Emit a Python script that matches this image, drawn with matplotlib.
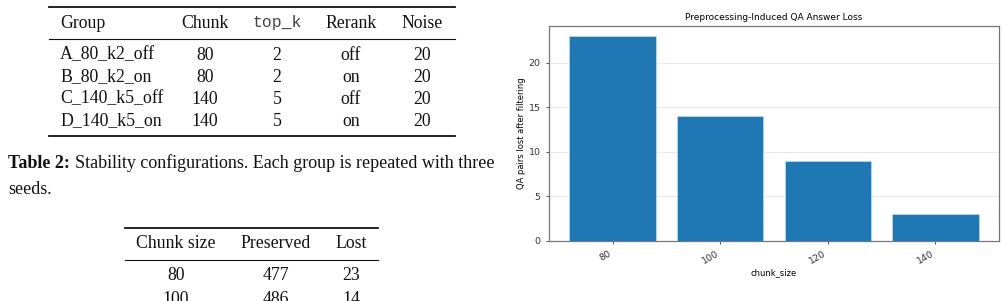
import matplotlib
matplotlib.use("Agg")
import matplotlib.pyplot as plt
from matplotlib.lines import Line2D

# chart data
chunk_sizes = ["80", "100", "120", "140"]
qa_lost = [23, 14, 9, 3]

# table 2 (stability configurations)
t2_header = ["Group", "Chunk", "top_k", "Rerank", "Noise"]
t2_groups = ["A_80_k2_off", "B_80_k2_on", "C_140_k5_off", "D_140_k5_on"]
t2_chunk = ["80", "80", "140", "140"]
t2_topk = ["2", "2", "5", "5"]
t2_rerank = ["off", "on", "off", "on"]
t2_noise = ["20", "20", "20", "20"]

# table 3 (preserved / lost), only the visible rows
t3_header = ["Chunk size", "Preserved", "Lost"]
t3_chunk = ["80", "100"]
t3_preserved = ["477", "486"]
t3_lost = ["23", "14"]

W, H = 1006, 301
fig = plt.figure(figsize=(W / 100, H / 100), dpi=100)

serif = ["Liberation Serif", "DejaVu Serif"]
fs = 12.8


def px(x, y):
    return x / W, 1 - y / H


def txt(x, y, s, ha="center", **kw):
    fx, fy = px(x, y)
    kw.setdefault("family", serif)
    kw.setdefault("fontsize", fs)
    kw.setdefault("color", "#111111")
    fig.text(fx, fy, s, ha=ha, va="center", **kw)


def rule(x0, x1, y, lw=1.2):
    a, b = px(x0, y)
    c, _ = px(x1, y)
    fig.add_artist(Line2D([a, c], [b, b], color="#111111", lw=lw))


# ---- table 2 ----
rule(49, 455, 7, lw=1.3)
rule(49, 455, 39, lw=0.8)
rule(49, 455, 136, lw=1.3)
col_x = [60, 205, 277, 351, 422]
for i, h in enumerate(t2_header):
    if i == 0:
        txt(col_x[i], 23, h, ha="left")
    elif h == "top_k":
        txt(col_x[i], 22, h, family=["Liberation Mono", "DejaVu Sans Mono"],
            fontsize=fs - 1, color="#444444")
    else:
        txt(col_x[i], 23, h)
row_y = [55, 77, 99, 121]
for j, y in enumerate(row_y):
    txt(col_x[0], y, t2_groups[j], ha="left")
    txt(col_x[1], y, t2_chunk[j])
    txt(col_x[2], y, t2_topk[j])
    txt(col_x[3], y, t2_rerank[j])
    txt(col_x[4], y, t2_noise[j])

# caption
fx, fy = px(8, 163)
fig.text(fx, fy, "Table 2:", family=serif, fontsize=13, fontweight="bold",
         va="center", color="#111111")
txt(75, 163, "Stability configurations. Each group is repeated with three",
    ha="left", fontsize=13)
txt(8, 189, "seeds.", ha="left", fontsize=13)

# ---- table 3 ----
rule(125, 378, 228, lw=1.3)
rule(125, 378, 260, lw=0.8)
t3_x = [176, 276, 351]
for i, h in enumerate(t3_header):
    txt(t3_x[i], 244, h)
for j, y in enumerate([276, 299]):
    txt(t3_x[0], y, t3_chunk[j])
    txt(t3_x[1], y, t3_preserved[j])
    txt(t3_x[2], y, t3_lost[j])

# ---- bar chart ----
ax = fig.add_axes([549 / W, 1 - 240.7 / H, (999 - 549) / W, (240.7 - 26) / H])
ax.bar(chunk_sizes, qa_lost, color="#1f77b4", edgecolor="#bcd6ee", linewidth=0.6)
ax.set_axisbelow(True)
ax.grid(axis="y", color="#dddddd", linewidth=0.6, alpha=0.8)
ax.set_title("Preprocessing-Induced QA Answer Loss", fontsize=6.5, pad=4)
ax.set_xlabel("chunk_size", fontsize=6, labelpad=2)
ax.set_ylabel("QA pairs lost after filtering", fontsize=6, labelpad=2)
ax.tick_params(labelsize=6.8, length=2.5, width=0.6, colors="#333333")
plt.setp(ax.get_xticklabels(), rotation=30, ha="right")
for s in ax.spines.values():
    s.set_color("#777777")
    s.set_linewidth(0.9)

fig.savefig("out.png", dpi=100)
